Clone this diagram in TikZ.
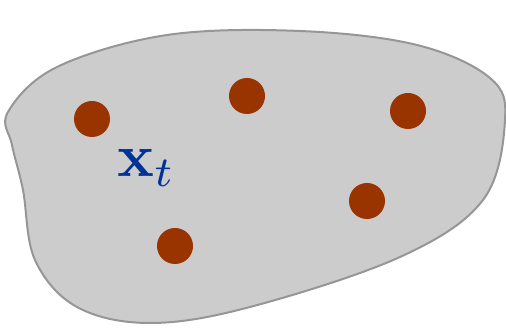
\documentclass[tikz,border=0pt]{standalone}
\begin{document}
\begin{tikzpicture}[x=1pt,y=-1pt,
  dot/.style={circle,fill=dotbrown,inner sep=0pt,minimum size=36pt},
  blob/.style={fill=blobgray,draw=blobedge,line width=2pt}]
\definecolor{dotbrown}{HTML}{993300}
\definecolor{blobgray}{HTML}{CCCCCC}
\definecolor{blobedge}{HTML}{969696}
\definecolor{labelblue}{HTML}{003399}
\useasboundingbox (0,0) rectangle (506,328);
\draw[blob] plot[smooth cycle,tension=0.6] coordinates {
  (8,112) (57,67) (167,35) (300,31) (417,45) (490,78) (505,120)
  (483,200) (400,257) (250,307) (150,323) (77,307) (35,260) (23,190) (12,145)};
\node[dot] (d1) at (92,119) {};
\node[dot] (d2) at (247,96) {};
\node[dot] (d3) at (408,111) {};
\node[dot] (d4) at (367,201) {};
\node[dot] (d5) at (175,246) {};
\node[text=labelblue,inner sep=0pt,anchor=base west,scale=6.1,transform shape=false] (lbl) at (116,177)
  {$\mathbf{x}_t$};
\end{tikzpicture}
\end{document}
